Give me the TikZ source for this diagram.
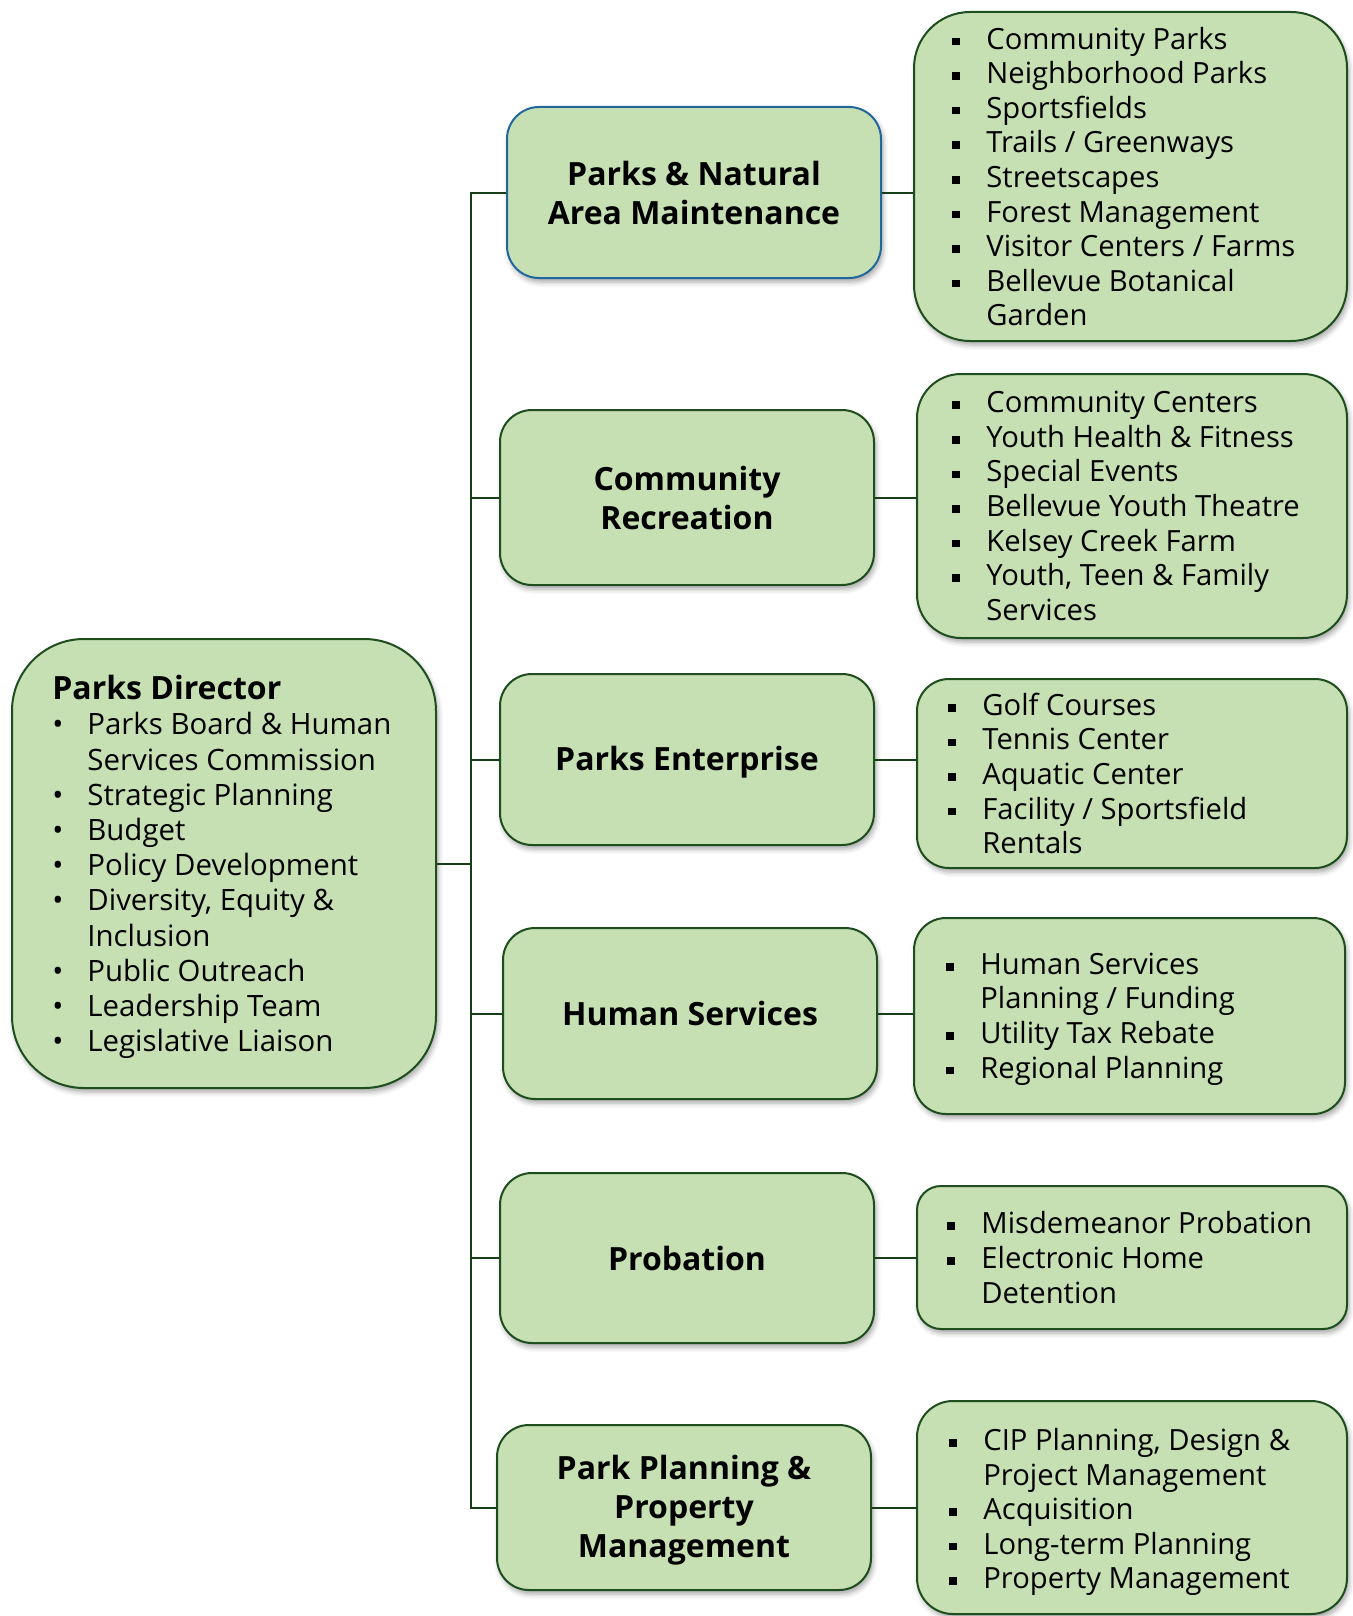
\documentclass[tikz,border=0pt]{standalone}
\usepackage{fontspec}
\setmainfont{Open Sans}
\usetikzlibrary{shadows.blur}
\definecolor{boxfill}{HTML}{C6E0B4}
\definecolor{edge}{HTML}{1E4D1E}
\definecolor{blueedge}{HTML}{22679C}
\definecolor{wire}{HTML}{173F17}
% bullets and hanging indents
\newcommand\sqb{\makebox[17pt][l]{\rule[1.9pt]{3.8pt}{3.8pt}}}
\newcommand\rdb{\makebox[17.5pt][l]{•}}
\newcommand\hang[1][17pt]{\hspace*{#1}}
\tikzset{
  card/.style={draw=edge, line width=1pt, fill=boxfill, rounded corners=#1,
    inner sep=0pt, blur shadow={shadow xshift=1pt, shadow yshift=-2pt,
    shadow blur radius=2.5pt, shadow opacity=35}},
  wire/.style={draw=wire, line width=1pt},
  body/.style={font=\fontsize{14.6}{17.3}\selectfont, align=left, anchor=west, inner sep=0pt},
  head/.style={font=\fontsize{16}{19.5}\selectfont\bfseries, align=center, inner sep=0pt},
}
\begin{document}
\begin{tikzpicture}[x=0.5pt, y=-0.5pt]
\useasboundingbox (0,0) rectangle (1353,1616);

% ---- boxes ----
\node[card=36pt, minimum width=212pt, minimum height=224.5pt] (dir) at (224,863.5) {};

\node[card=16pt, draw=blueedge, minimum width=187pt, minimum height=85.5pt] (m1) at (694,192.5) {};
\node[card=16pt, minimum width=187pt, minimum height=87.5pt] (m2) at (687,497.5) {};
\node[card=16pt, minimum width=187pt, minimum height=85.5pt] (m3) at (687,759.5) {};
\node[card=16pt, minimum width=187pt, minimum height=85.5pt] (m4) at (690,1013.5) {};
\node[card=16pt, minimum width=187pt, minimum height=85pt] (m5) at (687,1258) {};
\node[card=16pt, minimum width=187pt, minimum height=82.5pt] (m6) at (684,1507.5) {};

\node[card=28pt, minimum width=216.5pt, minimum height=164.5pt] (r1) at (1130.5,176.5) {};
\node[card=22pt, minimum width=215pt, minimum height=132pt] (r2) at (1132,506) {};
\node[card=16pt, minimum width=215pt, minimum height=94.5pt] (r3) at (1132,773.5) {};
\node[card=16pt, minimum width=215.5pt, minimum height=98pt] (r4) at (1129.5,1016) {};
\node[card=12pt, minimum width=215pt, minimum height=71.5pt] (r5) at (1132,1257.5) {};
\node[card=18pt, minimum width=215pt, minimum height=106.5pt] (r6) at (1132,1507.5) {};

% ---- connectors ----
\coordinate (trunk) at (471,192);
\draw[wire] (m1.west) -- (m1.west -| trunk) -- (m6.west -| trunk) -- (m6.west);
\draw[wire] (dir.east) -- (dir.east -| trunk);
\foreach \m in {m2,m3,m4,m5} \draw[wire] (\m.west -| trunk) -- (\m.west);
\draw[wire] (m1.east) -- (m1.east -| r1.west);
\draw[wire] (m2.east) -- (m2.east -| r2.west);
\draw[wire] (m3.east) -- (m3.east -| r3.west);
\draw[wire] (m4.east) -- (m4.east -| r4.west);
\draw[wire] (m5.east) -- (m5.east -| r5.west);
\draw[wire] (m6.east) -- (m6.east -| r6.west);

% ---- texts ----
\node[body, font=\fontsize{14.7}{17.6}\selectfont] (dirtext) at (52,867) {%
{\fontsize{16}{19.5}\selectfont\bfseries Parks Director}\\
\rdb Parks Board \& Human\\
\hang[17.5pt]Services Commission\\
\rdb Strategic Planning\\
\rdb Budget\\
\rdb Policy Development\\
\rdb Diversity, Equity \&\\
\hang[17.5pt]Inclusion\\
\rdb Public Outreach\\
\rdb Leadership Team\\
\rdb Legislative Liaison};

\node[head] (m1text) at (m1) {Parks \& Natural\\Area Maintenance};
\node[head] (m2text) at (m2) {Community\\Recreation};
\node[head] (m3text) at ([yshift=-1.5pt]m3.center) {Parks Enterprise};
\node[head] (m4text) at (m4) {Human Services};
\node[head] (m5text) at (m5) {Probation};
\node[head] (m6text) at ([yshift=-1.5pt]m6.center) {Park Planning \&\\Property\\Management};

\node[body] (r1text) at (952,176.5) {%
\sqb Community Parks\\
\sqb Neighborhood Parks\\
\sqb Sportsfields\\
\sqb Trails / Greenways\\
\sqb Streetscapes\\
\sqb Forest Management\\
\sqb Visitor Centers / Farms\\
\sqb Bellevue Botanical\\
\hang Garden};

\node[body] (r2text) at (952,506) {%
\sqb Community Centers\\
\sqb Youth Health \& Fitness\\
\sqb Special Events\\
\sqb Bellevue Youth Theatre\\
\sqb Kelsey Creek Farm\\
\sqb Youth, Teen \& Family\\
\hang Services};

\node[body] (r3text) at (948,773.5) {%
\sqb Golf Courses\\
\sqb Tennis Center\\
\sqb Aquatic Center\\
\sqb Facility / Sportsfield\\
\hang Rentals};

\node[body] (r4text) at (946,1019) {%
\sqb Human Services\\
\hang Planning / Funding\\
\sqb Utility Tax Rebate\\
\sqb Regional Planning};

\node[body] (r5text) at (947,1257.5) {%
\sqb Misdemeanor Probation\\
\sqb Electronic Home\\
\hang Detention};

\node[body] (r6text) at (949,1512) {%
\sqb CIP Planning, Design \&\\
\hang Project Management\\
\sqb Acquisition\\
\sqb Long-term Planning\\
\sqb Property Management};
\end{tikzpicture}
\end{document}
